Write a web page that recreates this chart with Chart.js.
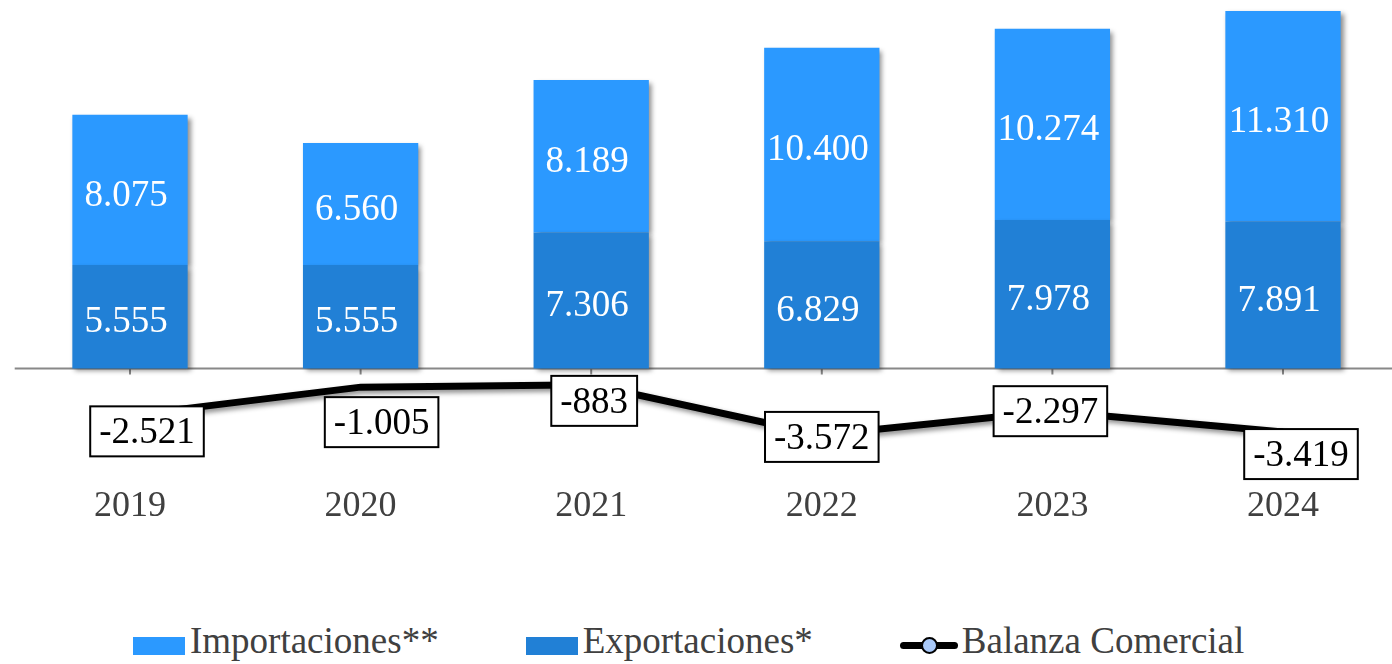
<!DOCTYPE html>
<html>
<head>
<meta charset="utf-8">
<script src="https://cdn.jsdelivr.net/npm/chart.js@4.4.1/dist/chart.umd.min.js"></script>
<style>
  html, body { margin: 0; padding: 0; background: #fff; overflow: hidden; }
  .wrap { position: relative; width: 1400px; height: 664px; }
  .chart-box { position: absolute; left: 0; top: 0; width: 1400px; height: 610px; }
  .legend { position: absolute; left: 133px; top: 620px; display: flex; align-items: flex-start;
            font-family: "Liberation Serif", "Times New Roman", serif; font-size: 37px; color: #404040; line-height: 42px; }
  .legend .item { display: flex; align-items: flex-start; margin-right: 87px; }
  .legend .item:last-child { margin-right: 0; }
  .legend .sw { width: 52px; height: 18px; margin-right: 5px; margin-top: 17px; }
  .legend .ln { position: relative; width: 58px; height: 20px; margin-right: 4px; margin-top: 15px; }
  .legend .ln::before { content: ""; position: absolute; left: 0; right: 0; top: 7px; height: 7px; background: #000; border-radius: 4px; }
  .legend .ln::after { content: ""; position: absolute; left: 21px; top: 2px; border-radius: 50%;
            background: #a8c8f8; border: 2px solid #000; box-sizing: border-box; width: 17px; height: 17px; }
</style>
</head>
<body>
<div class="wrap">
  <div class="chart-box"><canvas id="chart"></canvas></div>
  <div class="legend">
    <div class="item"><span class="sw" style="background:#2b99ff"></span>Importaciones**</div>
    <div class="item"><span class="sw" style="background:#2180d6"></span>Exportaciones*</div>
    <div class="item"><span class="ln"></span>Balanza Comercial</div>
  </div>
</div>
<script>
// datos
const years = ['2019', '2020', '2021', '2022', '2023', '2024'];
const exportaciones = [5555, 5555, 7306, 6829, 7978, 7891];
const importaciones = [8075, 6560, 8189, 10400, 10274, 11310];
const balanza = [-2521, -1005, -883, -3572, -2297, -3419];
// desplazamiento de las etiquetas de la balanza (px)
const balanzaLabelShift = [[17, 16], [21, 35], [3, 16], [0, 2], [-2, 0], [18, 22]];

const SERIF = '"Liberation Serif", "Times New Roman", serif';

function fmt(v) {
    const s = Math.abs(v).toString().replace(/\B(?=(\d{3})+(?!\d))/g, '.');
    return (v < 0 ? '-' : '') + s;
}

// sombra para barras y linea
const shadowPlugin = {
    id: 'shadow',
    beforeDatasetDraw(chart) {
        const c = chart.ctx;
        c.save();
        c.shadowColor = 'rgba(0,0,0,0.45)';
        c.shadowBlur = 5;
        c.shadowOffsetX = 3;
        c.shadowOffsetY = 3;
    },
    afterDatasetDraw(chart) {
        chart.ctx.restore();
    }
};

// linea del cero con marcas
const zeroLine = {
    id: 'zeroLine',
    beforeDatasetsDraw(chart) {
        const c = chart.ctx;
        const y0 = chart.scales.y.getPixelForValue(0);
        const xs = chart.scales.x;
        c.save();
        c.strokeStyle = '#888';
        c.lineWidth = 2;
        c.beginPath();
        c.moveTo(chart.chartArea.left, y0);
        c.lineTo(chart.chartArea.right, y0);
        years.forEach((_, i) => {
            const x = xs.getPixelForValue(i);
            c.moveTo(x, y0);
            c.lineTo(x, y0 + 6);
        });
        c.stroke();
        c.restore();
    }
};

const labels = {
    id: 'labels',
    afterDatasetsDraw(chart) {
        const c = chart.ctx;
        c.save();
        c.font = 'normal 37px ' + SERIF;
        c.textAlign = 'center';
        c.textBaseline = 'middle';
        // barras
        [0, 1].forEach(di => {
            const meta = chart.getDatasetMeta(di);
            const data = chart.data.datasets[di].data;
            meta.data.forEach((bar, i) => {
                const mid = (bar.y + bar.base) / 2;
                c.fillStyle = '#fff';
                c.fillText(fmt(data[i]), bar.x - 4, mid + 6);
            });
        });
        // balanza
        const meta = chart.getDatasetMeta(2);
        meta.data.forEach((pt, i) => {
            const txt = fmt(balanza[i]);
            const w = c.measureText(txt).width + 18;
            const h = 50;
            const cx = pt.x + balanzaLabelShift[i][0];
            const cy = pt.y + balanzaLabelShift[i][1];
            c.fillStyle = '#fff';
            c.fillRect(cx - w / 2, cy - h / 2, w, h);
            c.strokeStyle = '#000';
            c.lineWidth = 2;
            c.strokeRect(cx - w / 2, cy - h / 2, w, h);
            c.fillStyle = '#000';
            c.fillText(txt, cx, cy + 2);
        });
        c.restore();
    }
};

function draw() {
    new Chart(document.getElementById('chart'), {
        data: {
            labels: years,
            datasets: [
                {
                    type: 'bar', label: 'Exportaciones*', data: exportaciones,
                    backgroundColor: '#2180d6', stack: 'bars',
                    categoryPercentage: 0.5, barPercentage: 1, order: 2
                },
                {
                    type: 'bar', label: 'Importaciones**', data: importaciones,
                    backgroundColor: '#2b99ff', stack: 'bars',
                    categoryPercentage: 0.5, barPercentage: 1, order: 2
                },
                {
                    type: 'line', label: 'Balanza Comercial', data: balanza,
                    borderColor: '#000', borderWidth: 7, pointRadius: 0,
                    tension: 0, stack: 'line', order: 1
                }
            ]
        },
        options: {
            responsive: true,
            maintainAspectRatio: false,
            animation: false,
            layout: { padding: { left: 14.7, right: 1.7, top: 5.5, bottom: 76 } },
            plugins: { legend: { display: false }, tooltip: { enabled: false } },
            scales: {
                x: {
                    stacked: true,
                    grid: { display: false },
                    border: { display: false },
                    ticks: { color: '#404040', font: { family: SERIF, size: 36 }, padding: 6 }
                },
                y: {
                    stacked: true,
                    display: false,
                    min: -5500,
                    max: 19500
                }
            }
        },
        plugins: [shadowPlugin, zeroLine, labels]
    });
}

document.fonts.load('37px "Liberation Serif"').then(draw, draw);
</script>
</body>
</html>
